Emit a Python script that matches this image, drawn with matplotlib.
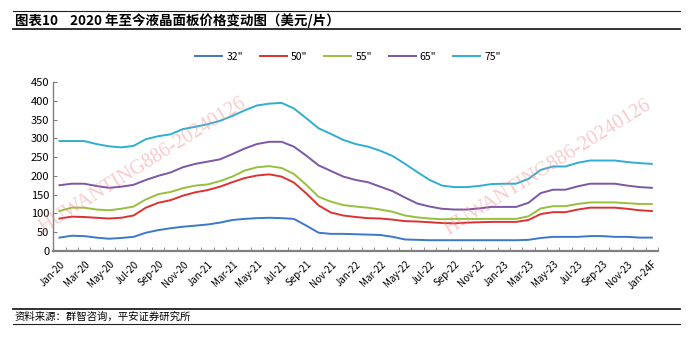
import numpy as np
import matplotlib
matplotlib.use('Agg')
import matplotlib.pyplot as plt
from matplotlib.lines import Line2D

plt.rcParams['font.family'] = ['Noto Sans CJK SC', 'DejaVu Sans']

# monthly prices, Jan-20 .. Jan-24F (USD per panel)
months = ['Jan-20', 'Feb-20', 'Mar-20', 'Apr-20', 'May-20', 'Jun-20', 'Jul-20', 'Aug-20', 'Sep-20', 'Oct-20', 'Nov-20', 'Dec-20',
          'Jan-21', 'Feb-21', 'Mar-21', 'Apr-21', 'May-21', 'Jun-21', 'Jul-21', 'Aug-21', 'Sep-21', 'Oct-21', 'Nov-21', 'Dec-21',
          'Jan-22', 'Feb-22', 'Mar-22', 'Apr-22', 'May-22', 'Jun-22', 'Jul-22', 'Aug-22', 'Sep-22', 'Oct-22', 'Nov-22', 'Dec-22',
          'Jan-23', 'Feb-23', 'Mar-23', 'Apr-23', 'May-23', 'Jun-23', 'Jul-23', 'Aug-23', 'Sep-23', 'Oct-23', 'Nov-23', 'Dec-23',
          'Jan-24F']
p32 = [35, 40, 39, 35, 32, 34, 37, 48, 55, 60, 64, 67, 70, 75, 82, 85, 87, 88, 87, 85,
       67, 48, 45, 45, 44, 43, 42, 37, 30, 29, 28, 28, 28, 28, 28, 28, 28, 28, 29, 34,
       37, 37, 37, 39, 39, 37, 37, 35, 35]
p50 = [86, 91, 90, 88, 86, 88, 94, 115, 128, 135, 147, 156, 162, 171, 183, 194, 201, 204, 198, 182,
       153, 121, 102, 94, 90, 87, 86, 83, 79, 78, 76, 74, 73, 75, 76, 77, 77, 77, 82, 98,
       103, 103, 110, 115, 115, 115, 112, 108, 106]
p55 = [106, 115, 115, 110, 108, 112, 118, 137, 151, 157, 167, 174, 177, 186, 198, 214, 223, 226, 221, 205,
       176, 144, 131, 122, 118, 115, 110, 104, 94, 89, 86, 84, 85, 85, 85, 85, 85, 85, 92, 113,
       119, 119, 125, 129, 129, 129, 127, 125, 125]
p65 = [175, 179, 179, 173, 168, 171, 176, 189, 200, 209, 223, 232, 238, 244, 258, 273, 285, 291, 291, 278,
       254, 228, 213, 198, 189, 183, 171, 159, 142, 126, 118, 112, 110, 110, 113, 117, 117, 117, 128, 154,
       163, 163, 172, 179, 179, 179, 174, 170, 168]
p75 = [293, 293, 293, 285, 279, 276, 280, 298, 306, 311, 325, 331, 338, 347, 360, 375, 388, 393, 395, 380,
       354, 327, 312, 296, 285, 278, 267, 253, 232, 210, 189, 174, 170, 170, 173, 178, 179, 179, 192, 216,
       225, 225, 235, 241, 241, 241, 237, 234, 232]

series = [('32"', p32, '#3C78C8'), ('50"', p50, '#DC3232'), ('55"', p55, '#96C03C'),
          ('65"', p65, '#7D56A8'), ('75"', p75, '#30AED2')]

W, H = 700, 338
fig = plt.figure(figsize=(7, 3.38), dpi=100)
ax = fig.add_axes([53.3 / W, 1 - 250.7 / H, (658 - 53.3) / W, (250.7 - 82.3) / H])

x = np.arange(len(months))
for name, vals, c in series:
    ax.plot(x, vals, color=c, lw=1.4, label=name, solid_joinstyle='round')

ax.set_xlim(-0.5, len(months) - 0.5)
ax.set_ylim(0, 450)
ax.set_yticks(range(0, 451, 50))
ax.tick_params(axis='y', direction='in', length=3, labelsize=8, color='#808080', pad=3)
ax.set_xticks(x[::2])
ax.set_xticklabels(months[::2], rotation=45, ha='right', rotation_mode='anchor', fontsize=7)
ax.tick_params(axis='x', which='major', length=0, pad=6)
ax.set_xticks(np.arange(-0.5, len(months)), minor=True)
ax.tick_params(axis='x', which='minor', direction='in', length=3, color='#808080')
for s in ['top', 'right']:
    ax.spines[s].set_visible(False)
ax.spines['bottom'].set_color('#808080')
ax.spines['bottom'].set_linewidth(1.6)
ax.spines['left'].set_color('#808080')
ax.spines['left'].set_linewidth(1.0)

fig.legend(loc='center', bbox_to_anchor=(348 / W, 1 - 56.7 / H), ncol=5, frameon=False,
           fontsize=7.5, handlelength=2.6, columnspacing=1.6, handletextpad=0.4)

# watermark
for cx, cy in [(143, 166), (548, 168)]:
    fig.text(cx / W, 1 - cy / H, 'HUWANTING886-20240126', fontsize=14.5, family='Liberation Serif',
             color='#F28C8C', alpha=0.45, rotation=32, ha='center', va='center')

# header and footer
fig.add_artist(Line2D([13 / W, 680 / W], [1 - 10.7 / H] * 2, color='#222222', lw=0.8))
fig.add_artist(Line2D([13 / W, 680 / W], [1 - 29.3 / H] * 2, color='#222222', lw=1.3))
fig.text(15 / W, 1 - 20.5 / H, '图表10    2020 年至今液晶面板价格变动图（美元/片）',
         fontsize=9.7, fontweight='bold', va='center', ha='left')
fig.add_artist(Line2D([13 / W, 680 / W], [1 - 309 / H] * 2, color='#222222', lw=1.3))
fig.add_artist(Line2D([13 / W, 680 / W], [1 - 324.3 / H] * 2, color='#222222', lw=0.8))
fig.text(15 / W, 1 - 316.5 / H, '资料来源：群智咨询，平安证券研究所', fontsize=7.5,
         va='center', ha='left', style='italic')

fig.savefig('out.png', dpi=100, facecolor='white')
